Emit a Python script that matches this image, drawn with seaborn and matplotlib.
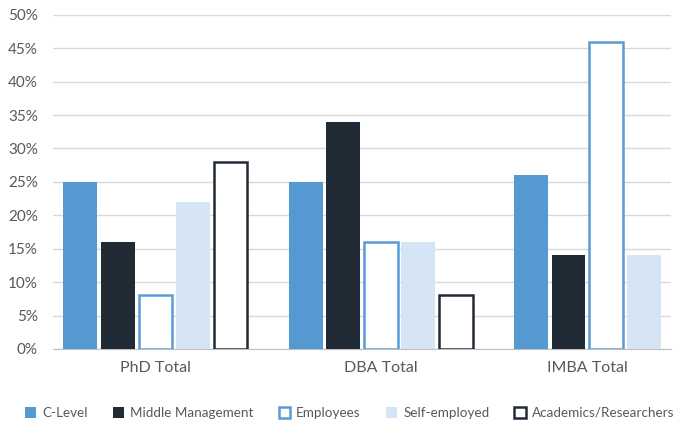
import numpy as np
import pandas as pd
import seaborn as sns
import matplotlib.pyplot as plt
from matplotlib.patches import Patch
from matplotlib.ticker import PercentFormatter

programs = ['PhD Total', 'DBA Total', 'IMBA Total']
roles = ['C-Level', 'Middle Management', 'Employees', 'Self-employed', 'Academics/Researchers']
c_level = [0.25, 0.25, 0.26]
middle = [0.16, 0.34, 0.14]
employees = [0.08, 0.16, 0.46]
self_employed = [0.22, 0.16, 0.14]
academics = [0.28, 0.08, np.nan]  # no academics bar for IMBA

face = {'C-Level': '#5599d3', 'Middle Management': '#212b36', 'Employees': 'white',
        'Self-employed': '#d5e5f5', 'Academics/Researchers': 'white'}
edge = {'C-Level': '#5599d3', 'Middle Management': '#212b36', 'Employees': '#5b9bd5',
        'Self-employed': '#d5e5f5', 'Academics/Researchers': '#222b35'}

# groups only hold the bars they have, one empty slot between groups
values = dict(zip(roles, [c_level, middle, employees, self_employed, academics]))
rows = []
centers = []
slot = 0
for i, p in enumerate(programs):
    start = slot
    for r in roles:
        v = values[r][i]
        if np.isnan(v):
            continue
        rows.append({'slot': slot, 'role': r, 'value': v})
        slot += 1
    centers.append((start + slot - 1) / 2)
    slot += 1
df = pd.DataFrame(rows)

sns.set_style('white')
plt.rcParams['font.family'] = ['Lato', 'DejaVu Sans']
txt = '#595959'

fig = plt.figure(figsize=(6.83, 4.24), dpi=100)
ax = fig.add_axes([0.078, 0.177, 0.904, 0.788])
sns.barplot(data=df, x='slot', y='value', hue='role', hue_order=roles, native_scale=True,
            dodge=False, palette=face, width=0.9, legend=False, ax=ax)

for role, cont in zip(roles, ax.containers):
    hollow = face[role] == 'white'
    for bar in cont:
        bar.set_facecolor(face[role])
        bar.set_edgecolor(edge[role])
        bar.set_linewidth(1.8 if hollow else 0)
        bar.set_zorder(3)

last = df['slot'].max()
ax.set_xlim(-0.72, last + 0.72)
ax.set_xticks(centers)
ax.set_xticklabels(programs)
ax.set_ylim(0, 0.5)
ax.set_yticks(np.arange(0, 0.51, 0.05))
ax.yaxis.set_major_formatter(PercentFormatter(1.0, decimals=0))
ax.grid(axis='y', color='#d9d9d9', linewidth=1, zorder=0)
ax.grid(axis='x', visible=False)
ax.set_axisbelow(True)
for s in ['top', 'right', 'left']:
    ax.spines[s].set_visible(False)
ax.spines['bottom'].set_color('#bfbfbf')
ax.set_xlabel('')
ax.set_ylabel('')
ax.tick_params(axis='y', labelsize=11, colors=txt, length=0, pad=11)
ax.tick_params(axis='x', labelsize=11.5, colors=txt, length=0, pad=9)

handles = [Patch(facecolor=face[r], edgecolor=edge[r], linewidth=1.8 if face[r] == 'white' else 0)
           for r in roles]
fig.legend(handles, roles, loc='center', bbox_to_anchor=(0.512, 0.026), ncol=5, frameon=False,
           fontsize=9.7, labelcolor=txt, handlelength=0.85, handleheight=0.85, columnspacing=1.85,
           handletextpad=0.45)

fig.savefig('out.png', dpi=100)
